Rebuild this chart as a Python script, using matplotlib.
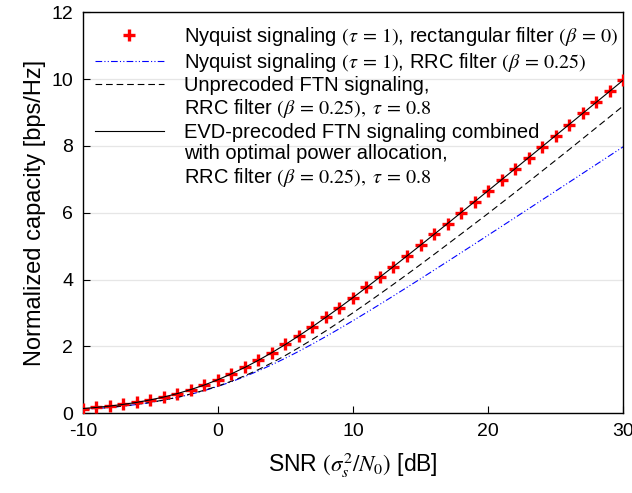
import matplotlib
matplotlib.use("Agg")
import matplotlib.pyplot as plt
from matplotlib.lines import Line2D

plt.rcParams['font.family'] = ['Liberation Sans', 'DejaVu Sans']
plt.rcParams['mathtext.fontset'] = 'stix'
plt.rcParams['axes.unicode_minus'] = False

snr_db = list(range(-10, 31))

nyq_rect = [0.1375, 0.171, 0.212, 0.2625, 0.323, 0.396, 0.4835, 0.586, 0.706, 0.8435,
            1.0, 1.176, 1.370, 1.583, 1.812, 2.057, 2.3165, 2.588, 2.870, 3.161,
            3.459, 3.764, 4.075, 4.389, 4.707, 5.028, 5.351, 5.676, 6.002, 6.330,
            6.658, 6.9875, 7.317, 7.648, 7.978, 8.309, 8.641, 8.972, 9.304, 9.635, 9.967]

nyq_rrc = [0.110, 0.137, 0.170, 0.210, 0.259, 0.317, 0.387, 0.469, 0.565, 0.675,
           0.800, 0.940, 1.096, 1.266, 1.450, 1.646, 1.853, 2.070, 2.296, 2.529,
           2.768, 3.012, 3.260, 3.511, 3.766, 4.022, 4.281, 4.541, 4.802, 5.064,
           5.327, 5.590, 5.854, 6.118, 6.383, 6.648, 6.912, 7.178, 7.443, 7.708, 7.974]

ftn_unprec = [0.112, 0.139, 0.172, 0.213, 0.262, 0.321, 0.393, 0.476, 0.575, 0.686,
              0.810, 0.956, 1.120, 1.303, 1.507, 1.727, 1.962, 2.208, 2.465, 2.731,
              3.004, 3.284, 3.570, 3.859, 4.152, 4.450, 4.751, 5.056, 5.362, 5.670,
              5.978, 6.293, 6.607, 6.928, 7.248, 7.569, 7.891, 8.217, 8.544, 8.870, 9.197]

ftn_evd = [0.1375, 0.171, 0.212, 0.2625, 0.323, 0.396, 0.4835, 0.586, 0.706, 0.8435,
           1.0, 1.176, 1.370, 1.583, 1.812, 2.057, 2.3165, 2.588, 2.870, 3.161,
           3.459, 3.764, 4.075, 4.389, 4.707, 5.028, 5.351, 5.676, 6.002, 6.330,
           6.658, 6.9875, 7.317, 7.648, 7.978, 8.309, 8.641, 8.972, 9.304, 9.635, 9.967]

legend_lines = [
    [r"Nyquist signaling $(\tau\,=\,1)$, rectangular filter $(\beta\,=\,0)$"],
    [r"Nyquist signaling $(\tau\,=\,1)$, RRC filter $(\beta\,=\,0.25)$"],
    ["Unprecoded FTN signaling,", r"RRC filter $(\beta\,=\,0.25),\ \tau\,=\,0.8$"],
    ["EVD-precoded FTN signaling combined", "with optimal power allocation,",
     r"RRC filter $(\beta\,=\,0.25),\ \tau\,=\,0.8$"],
]

fig = plt.figure(figsize=(6.32, 4.93), dpi=100)
ax = fig.add_axes([0.131, 0.162, 0.855, 0.813])

h0, = ax.plot(snr_db, nyq_rect, linestyle='none', marker='+', color='red',
              markersize=9, markeredgewidth=2.4, zorder=3)
h1, = ax.plot(snr_db, nyq_rrc, color='blue', linewidth=0.8,
              dashes=(6, 2, 1, 2, 1, 2), zorder=2)
h2, = ax.plot(snr_db, ftn_unprec, color='black', linewidth=0.8,
              dashes=(6, 3.5), zorder=2)
h3, = ax.plot(snr_db, ftn_evd, color='black', linewidth=0.8, zorder=4)

handles, texts = [], []
for h, lines in zip([h0, h1, h2, h3], legend_lines):
    for i, t in enumerate(lines):
        handles.append(h if i == 0 else Line2D([], [], linestyle='none'))
        texts.append(t)

ax.set_xlim(-10, 30)
ax.set_ylim(0, 12)
ax.set_xticks([-10, 0, 10, 20, 30])
ax.set_yticks([0, 2, 4, 6, 8, 10, 12])
ax.yaxis.grid(True, color='#e6e6e6', linewidth=0.9)
ax.set_axisbelow(True)
ax.tick_params(direction='in', length=5, width=0.8, labelsize=14, pad=7)
for s in ax.spines.values():
    s.set_linewidth(1.0)

ax.set_xlabel(r"SNR $(\sigma_s^2/N_0)$ [dB]", fontsize=16.5, labelpad=8)
ax.set_ylabel("Normalized capacity [bps/Hz]", fontsize=17, labelpad=4)

leg = ax.legend(handles, texts, loc='upper left', bbox_to_anchor=(0.022, 0.968),
                borderaxespad=0, borderpad=0, frameon=False, fontsize=14.5,
                handlelength=3.45, handletextpad=1.0, labelspacing=0.12)

fig.savefig("out.png", dpi=100)
